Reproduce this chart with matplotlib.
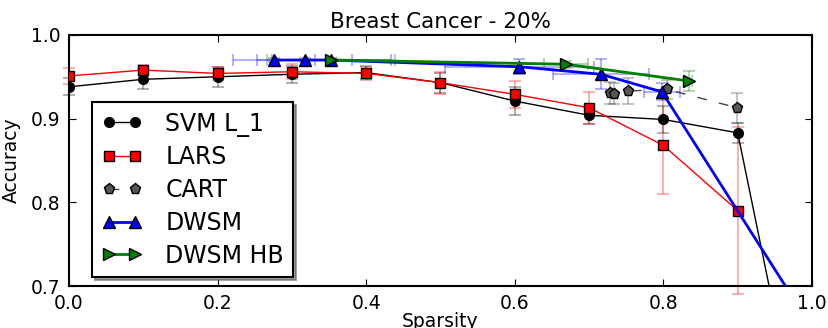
import numpy as np
from matplotlib import pyplot as plt

# sparsity grid shared by SVM L_1 and LARS
grid_x = [0.0, 0.1, 0.2, 0.3, 0.4, 0.5, 0.6, 0.7, 0.8, 0.9, 1.0]

svm_y = [0.938, 0.947, 0.950, 0.953, 0.955, 0.943, 0.921, 0.904, 0.899, 0.883, 0.45]
svm_err = [0.010, 0.012, 0.012, 0.010, 0.008, 0.012, 0.017, 0.010, 0.016, 0.012, 0.0]

lars_y = [0.951, 0.958, 0.954, 0.956, 0.954, 0.943, 0.929, 0.913, 0.868, 0.790, 0.65]
lars_err = [0.010, 0.006, 0.008, 0.009, 0.008, 0.013, 0.016, 0.019, 0.058, 0.100, 0.0]

cart_x = [0.728, 0.733, 0.752, 0.805, 0.899]
cart_y = [0.931, 0.930, 0.933, 0.935, 0.913]
cart_err = [0.013, 0.012, 0.016, 0.011, 0.018]

dwsm_x = [0.276, 0.317, 0.353, 0.606, 0.716, 0.798, 1.0]
dwsm_y = [0.970, 0.970, 0.970, 0.962, 0.953, 0.932, 0.65]
dwsm_xerr = [0.055, 0.064, 0.080, 0.100, 0.065, 0.024, 0.0]
dwsm_yerr = [0.002, 0.002, 0.002, 0.009, 0.018, 0.010, 0.0]

hb_x = [0.353, 0.669, 0.834]
hb_y = [0.970, 0.965, 0.945]
hb_xerr = [0.086, 0.030, 0.005]
hb_yerr = [0.002, 0.004, 0.012]

fig = plt.figure(figsize=(8.29, 3.28), dpi=100)
ax = fig.add_axes([0.0832, 0.128, 0.8963, 0.7655])


def draw(x, y, color, marker, ms, lw, label, yerr, xerr=None, ls='-', mfc=None, n=None):
    n = len(x) if n is None else n
    ebar = ax.errorbar(x[:n], y[:n], yerr=yerr[:n], xerr=None if xerr is None else xerr[:n],
                       fmt='none', ecolor=color, alpha=0.3, capsize=4, capthick=1.5,
                       elinewidth=1.5, zorder=2)
    for art in ebar.get_children():
        art.set_clip_on(False)
    line, = ax.plot(x, y, color=color, ls=ls, lw=lw, marker=marker, ms=ms,
                    mfc=mfc or color, mec='black', mew=1, label=label, zorder=3)
    return line


draw(grid_x, svm_y, 'black', 'o', 7, 1.0, 'SVM L_1', svm_err, n=10)
draw(grid_x, lars_y, 'red', 's', 7, 1.0, 'LARS', lars_err, n=10)
cart_line = draw(cart_x, cart_y, '#444444', 'p', 8, 1.0, 'CART', cart_err, ls='--', mfc='#555555')
cart_line.set_dashes((7, 9))
draw(dwsm_x, dwsm_y, 'blue', '^', 8, 2.0, 'DWSM', dwsm_yerr, xerr=dwsm_xerr, n=6)
draw(hb_x, hb_y, 'green', '>', 8, 2.0, 'DWSM HB', hb_yerr, xerr=hb_xerr)

ax.set_xlim(0, 1.0)
ax.set_ylim(0.7, 1.0)
ax.set_xticks([0.0, 0.2, 0.4, 0.6, 0.8, 1.0])
ax.set_yticks([0.7, 0.8, 0.9, 1.0])
ax.tick_params(direction='in', top=True, right=True, length=5, labelsize=13.5, pad=6)
for sp in ax.spines.values():
    sp.set_linewidth(1.5)

ax.set_title('Breast Cancer - 20%', fontsize=15.5, pad=5)
ax.set_xlabel('Sparsity', fontsize=13.5, labelpad=-1)
ax.set_ylabel('Accuracy', fontsize=13.5, labelpad=7)

leg = ax.legend(loc='lower left', bbox_to_anchor=(0.031, 0.036), borderaxespad=0,
                numpoints=2, fontsize=17, shadow=True, fancybox=False,
                handlelength=1.7, handletextpad=1.0, labelspacing=0.37, framealpha=1)
leg.get_frame().set_edgecolor('black')
leg.get_frame().set_linewidth(1.5)

fig.savefig('out.png', dpi=100)
